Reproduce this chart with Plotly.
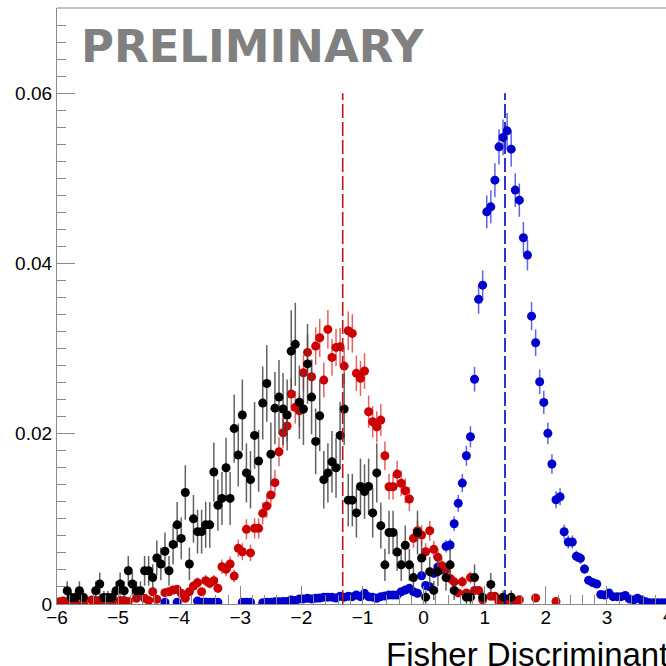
import math
import plotly.graph_objects as go

# ---------------- data ----------------
bin_low = -6.0
bin_width = 1.0 / 15.0
n_bins = 150

black_vals = [
    None, None, .00156, .00076, .00076, .00156, .00076, None, None, .00156,
    .00235, .00076, .00076, .00076, .00156, .00235, .00156, .0039, .00235, .00156,
    .00156, .0039, .0039, .0031, .0054, .0047, .0062, .0039, .0070, .0093,
    .0077, .0131, .0047, .0100, .0085, .0085, .0093, .0093, .0155, .0116,
    .0124, .0160, .0124, .0206, .0175, .0222, .0154, .0146, .0198, .0168,
    .0236, .0259, .0176, .0230, .0243, .0229, .0222, .0297, .0305, .0237,
    .0229, .0282, .0243, .0191, .0221, .0146, .0154, .0167, .0160, .0198,
    .0229, .0122, .0122, .0107, .0138, .0132, .0138, .0107, .0154, .0092,
    .0046, .0084, .0084, .0061, .0046, .0069, .0046, .0031, .0084, .0054,
    .0008, .0038, .0016, .0038, None, .0031, .0046, .0016, None, None,
    .0008, .0008, .0031, None, .0008, None, .0023, None, None, .0008,
    None, .0008,
] + [None] * 38

red_vals = [
    .00027, .00035, .0002, None, .0002, None, .0001, None, .00047, .0004,
    .0004, .0004, None, .0001, None, .0004, .0004, .0003, None, .00068,
    None, .00068, .0004, .00144, .00055, None, .00133, .00144, .00164, .00172,
    .00125, .00067, .00144, .00211, .0025, .00144, .00274, .00243, .00274, .00184,
    .00438, .00407, .0047, .00329, .00654, .00614, .00877, .0060, .00889, .00889,
    .01065, .0115, .0128, .01425, .01788, .02011, .0209, .02466, .0231, .0227,
    .02716, .02955, .02669, .03029, .03127, .0263, .03225, .02896, .03014, .03021,
    .02794, .03209, .03178, .02709, .0265, .02736, .02258, .0214, .02082, .0216,
    .01741, .01377, .01377, .01526, .01417, .0133, .01233, .00771, .0086, .0081,
    .00614, .0086, .00642, .00548, .0045, .0040, .0030, .0026, .0013, .0026,
    .0013, .0031, .0016, .0016, .0005, None, .0009, .0009, .0003, None,
    .00005, None, .0003, .0005, None, None, None, .0007, None, None,
    None, None, .0003,
] + [None] * 27

blue_vals = [
    None, None, None, None, None, None, None, None, None, None,
    None, None, None, None, None, None, None, None, None, None,
    None, None, None, None, None, None, .0002, None, None, .0002,
    None, None, None, None, .00035, .0002, .0002, .0002, .0002, .0002,
    None, None, None, None, None, .0002, .0002, .0002, None, None,
    .00015, .0002, .0002, .00027, .00027, .0003, .0003, .00047, .0004, .0006,
    .0006, .00067, .0006, .00067, .0007, .0008, .0008, .0008, .0007, .0009,
    .0008, .0009, .00086, .00106, .00086, .00125, .00086, .0008, .00067, .00086,
    .00095, .00106, .00106, .00106, .00144, .00164, .00184, .00144, .00125, .00332,
    .00217, .00203, .0036, .00434, .00404, .00677, .00693, .00943, .01182, .0142,
    .01741, .01964, .0264, .03578, .03745, .04606, .04665, .04978, .05369, .0548,
    .05557, .05342, .04861, .04743, .04301, .04098, .03381, .03068, .0261, .02368,
    .02004, .01644, .01225, .0126, .00849, .00728, .00728, .0056, .00536, .00411,
    .00278, .00252, .00235, .00112, .00106, .00129, .00086, .00086, .00086, .001,
    .0006, .00047, .00067, .00047, .00027, .00015, .00015, .00015, .00015, .00015,
]

# weight of a single entry (for Poisson error bars)
black_unit = 0.00078
red_unit = 0.00016
blue_unit = 0.00008

cut_red = -1.324
cut_blue = 1.332
cut_top = 0.06

x_tick_vals = [-6, -5, -4, -3, -2, -1, 0, 1, 2, 3, 4]
x_tick_text = ["\u22126", "\u22125", "\u22124", "\u22123", "\u22122", "\u22121", "0", "1", "2", "3", "4"]
y_tick_vals = [0, 0.02, 0.04, 0.06]
y_tick_text = ["0", "0.02", "0.04", "0.06"]

x_range = [-6.0, 3.967]
y_range = [0.0, 0.07]

# ---------------- figure ----------------
centres = [bin_low + (k + 0.5) * bin_width for k in range(n_bins)]


def series(vals, unit):
    xs, ys, es = [], [], []
    for c, v in zip(centres, vals):
        if v is None:
            continue
        xs.append(c)
        ys.append(v)
        es.append(math.sqrt(v * unit))
    return xs, ys, es


fig = go.Figure()

for vals, unit, mcol, ecol in [
    (blue_vals, blue_unit, "#0000cc", "rgba(70,70,230,0.85)"),
    (red_vals, red_unit, "#cc0000", "rgba(225,70,70,0.85)"),
    (black_vals, black_unit, "#000000", "rgba(70,70,70,0.85)"),
]:
    xs, ys, es = series(vals, unit)
    fig.add_trace(go.Scatter(
        x=xs, y=ys, mode="markers",
        marker=dict(color=mcol, size=9, line=dict(width=0)),
        error_y=dict(type="data", array=es, visible=True, color=ecol, thickness=1.5, width=0),
        showlegend=False, cliponaxis=True,
    ))

for xc, col in [(cut_red, "#b81818"), (cut_blue, "#0000c0")]:
    fig.add_trace(go.Scatter(
        x=[xc, xc], y=[0, cut_top], mode="lines",
        line=dict(color=col, width=1.6, dash="14px,4px"),
        showlegend=False, hoverinfo="skip",
    ))

axis_gray = "#8a8a8a"
tick_font = dict(family="Liberation Sans, Arial, sans-serif", size=19, color="black")

inside_x = [v for v in x_tick_vals if x_range[0] <= v <= x_range[1]]
inside_t = [t for v, t in zip(x_tick_vals, x_tick_text) if x_range[0] <= v <= x_range[1]]

fig.update_xaxes(
    range=x_range, showgrid=False, zeroline=False,
    showline=True, linecolor=axis_gray, linewidth=1.2,
    ticks="inside", ticklen=18, tickcolor=axis_gray, tickwidth=1,
    tickmode="array", tickvals=inside_x, ticktext=inside_t,
    tickfont=tick_font, ticklabeloverflow="allow", ticklabelstandoff=-4,
    minor=dict(ticks="inside", ticklen=9, tickcolor=axis_gray, tickwidth=1,
               tick0=0, dtick=0.2, showgrid=False),
)
fig.update_yaxes(
    range=y_range, showgrid=False, zeroline=False,
    showline=True, linecolor=axis_gray, linewidth=1.2,
    ticks="inside", ticklen=18, tickcolor=axis_gray, tickwidth=1,
    tickmode="array", tickvals=y_tick_vals, ticktext=y_tick_text,
    tickfont=tick_font,
    minor=dict(ticks="inside", ticklen=9, tickcolor=axis_gray, tickwidth=1,
               tick0=0, dtick=0.002, showgrid=False),
)

fig.add_shape(type="line", xref="paper", yref="paper", x0=0, x1=1, y0=1, y1=1,
              line=dict(color=axis_gray, width=1.2))

# tick labels that fall just past the right edge of the canvas (partly visible)
for v, t in zip(x_tick_vals, x_tick_text):
    if v > x_range[1]:
        fig.add_annotation(
            text=t, xref="paper", yref="paper",
            x=(v - x_range[0]) / (x_range[1] - x_range[0]), y=0,
            xanchor="center", yanchor="top", showarrow=False, borderpad=0,
            font=tick_font,
        )

fig.add_annotation(
    text="<b>PRELIMINARY</b>", xref="paper", yref="paper",
    x=0.0378, y=0.981, xanchor="left", yanchor="top", showarrow=False, borderpad=0,
    font=dict(family="DejaVu Sans", size=45, color="#808080"),
)
fig.add_annotation(
    text="Fisher Discriminant", xref="paper", yref="paper",
    x=0.5394, y=-0.052, xanchor="left", yanchor="top", showarrow=False, borderpad=0,
    font=dict(family="Liberation Sans, Arial, sans-serif", size=33, color="black"),
)

fig.update_layout(
    width=666, height=666,
    margin=dict(l=57, r=0, t=8, b=62),
    paper_bgcolor="white", plot_bgcolor="white",
    showlegend=False,
)

fig.write_html("out.html")
